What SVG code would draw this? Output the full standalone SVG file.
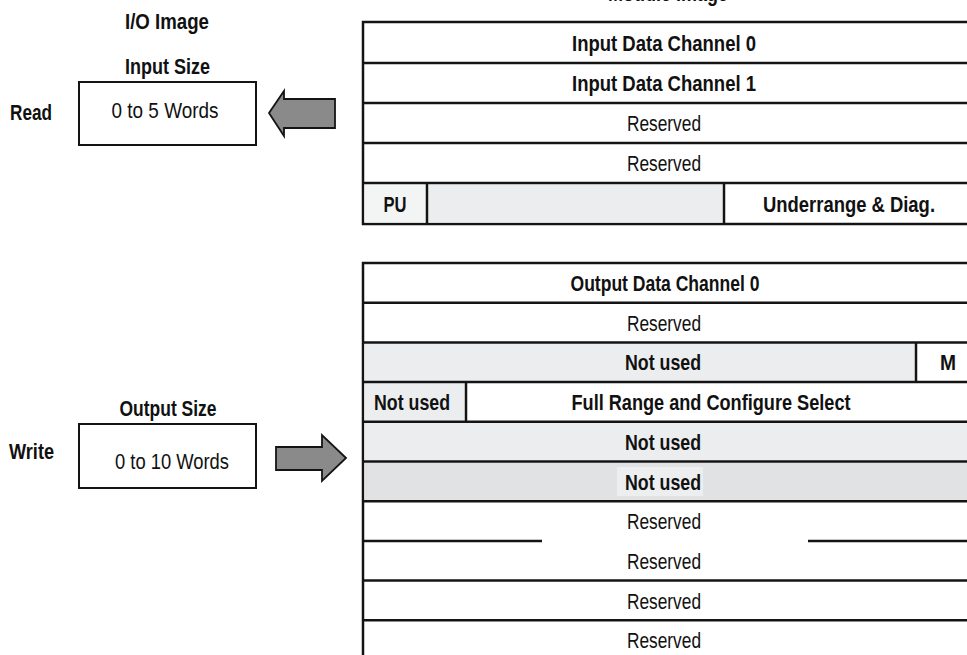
<svg xmlns="http://www.w3.org/2000/svg" width="967" height="655" viewBox="0 0 967 655">
<defs>
<style>
text{font-family:"Liberation Sans",Arial,sans-serif;font-size:22px;fill:#111}
.b{font-weight:bold}
.c{text-anchor:middle}
.cell{stroke:#141414;stroke-width:2.5;fill:#fff}
.g1{fill:#ecedee}
.g2{fill:#f3f4f4}
.g3{fill:#e1e2e3}
.ln{stroke:#141414;stroke-width:2.5;fill:none}
.box{fill:#fff;stroke:#141414;stroke-width:2}
.arrow{fill:#8a8a8a;stroke:#141414;stroke-width:1.8;stroke-linejoin:miter}
</style>
</defs>
<rect width="967" height="655" fill="#fff"/>

<g id="module-image-title">
<text class="b c" x="668" y="1" textLength="120" lengthAdjust="spacingAndGlyphs">Module Image</text>
</g>

<g id="io-image-title">
<text class="b c" x="167" y="29" textLength="84" lengthAdjust="spacingAndGlyphs">I/O Image</text>
</g>

<g id="read-input">
<text class="b c" x="167.5" y="74" textLength="85" lengthAdjust="spacingAndGlyphs">Input Size</text>
<text class="b" x="10" y="119.5" textLength="42" lengthAdjust="spacingAndGlyphs">Read</text>
<rect class="box" x="79" y="82" width="177" height="63"/>
<text class="c" x="165" y="117.5" textLength="107" lengthAdjust="spacingAndGlyphs">0 to 5 Words</text>
</g>

<g id="write-output">
<text class="b c" x="168" y="415.5" textLength="97" lengthAdjust="spacingAndGlyphs">Output Size</text>
<text class="b" x="9" y="459" textLength="45" lengthAdjust="spacingAndGlyphs">Write</text>
<rect class="box" x="79" y="424" width="177" height="64"/>
<text class="c" x="172" y="468.5" textLength="114" lengthAdjust="spacingAndGlyphs">0 to 10 Words</text>
</g>

<g id="input-table">
<rect class="cell" x="363" y="22" width="606" height="202"/>
<rect class="g2" x="364.5" y="184.5" width="62" height="38"/>
<rect class="g1" x="428.5" y="184.5" width="294" height="38"/>
<path class="ln" d="M363 63H969M363 103H969M363 143H969M363 183H969M427 183V224M724 183V224"/>
<text class="b c" x="664" y="50.5" textLength="184" lengthAdjust="spacingAndGlyphs">Input Data Channel 0</text>
<text class="b c" x="664" y="91" textLength="184" lengthAdjust="spacingAndGlyphs">Input Data Channel 1</text>
<text class="c" x="664" y="131" textLength="74" lengthAdjust="spacingAndGlyphs">Reserved</text>
<text class="c" x="664" y="171" textLength="74" lengthAdjust="spacingAndGlyphs">Reserved</text>
<text class="b c" x="395" y="211.5" textLength="23" lengthAdjust="spacingAndGlyphs">PU</text>
<text class="b c" x="849" y="211.5" textLength="172" lengthAdjust="spacingAndGlyphs">Underrange &amp; Diag.</text>
</g>

<g id="output-table">
<rect class="cell" x="363" y="263" width="606" height="397"/>
<rect class="g1" x="364.5" y="343.6" width="550" height="37.3"/>
<rect class="g1" x="364.5" y="383.3" width="100" height="37.3"/>
<rect class="g1" x="364.5" y="423" width="604" height="37.3"/>
<rect class="g3" x="364.5" y="462.7" width="604" height="37.3"/>
<rect fill="#edeef0" x="617" y="467" width="86" height="29"/>
<path class="ln" d="M363 302.7H969M363 342.4H969M363 382.1H969M363 421.8H969M363 461.5H969M363 501.2H969M363 540.9H542M808 540.9H969M363 580.6H969M363 620.3H969M916 342.4V382.1M466 382.1V421.8"/>
<text class="b c" x="665" y="291" textLength="189" lengthAdjust="spacingAndGlyphs">Output Data Channel 0</text>
<text class="c" x="664" y="330.5" textLength="74" lengthAdjust="spacingAndGlyphs">Reserved</text>
<text class="b c" x="663" y="370" textLength="76" lengthAdjust="spacingAndGlyphs">Not used</text>
<text class="b c" x="948" y="370" textLength="16" lengthAdjust="spacingAndGlyphs">M</text>
<text class="b c" x="412" y="410" textLength="76" lengthAdjust="spacingAndGlyphs">Not used</text>
<text class="b c" x="711" y="410" textLength="279" lengthAdjust="spacingAndGlyphs">Full Range and Configure Select</text>
<text class="b c" x="663" y="449.5" textLength="76" lengthAdjust="spacingAndGlyphs">Not used</text>
<text class="b c" x="663" y="489.5" textLength="76" lengthAdjust="spacingAndGlyphs">Not used</text>
<text class="c" x="664" y="529" textLength="74" lengthAdjust="spacingAndGlyphs">Reserved</text>
<text class="c" x="664" y="568.5" textLength="74" lengthAdjust="spacingAndGlyphs">Reserved</text>
<text class="c" x="664" y="608.5" textLength="74" lengthAdjust="spacingAndGlyphs">Reserved</text>
<text class="c" x="664" y="648" textLength="74" lengthAdjust="spacingAndGlyphs">Reserved</text>
</g>

<g id="connectors">
<path class="arrow" d="M269 113L284 91V99H335V128H284V136Z"/>
<path class="arrow" d="M346 458L322 435V447H276V470H322V481Z"/>
</g>
</svg>
